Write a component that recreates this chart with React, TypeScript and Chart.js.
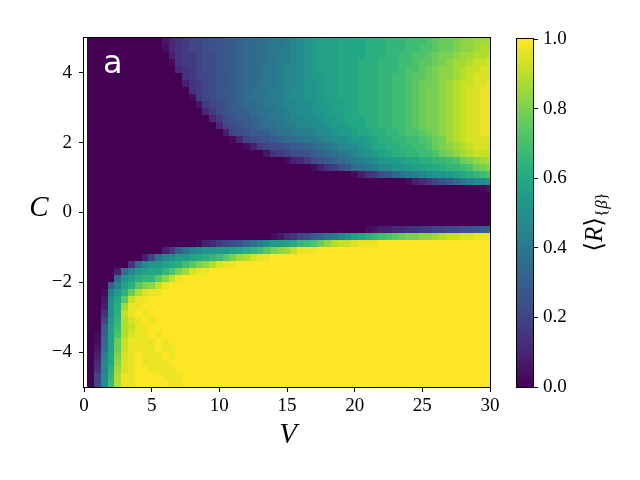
import React, { useEffect, useRef } from "react";
import { Chart, registerables } from "chart.js";

Chart.register(...registerables);

// ---------------- data ----------------
// column centres (V) and row centres (C) of the heat-map grid
const V_CENTERS = [
  0.5, 1, 1.5, 2, 2.5, 3, 3.5, 4, 4.5, 5,
  5.5, 6, 6.5, 7, 7.5, 8, 8.5, 9, 9.5, 10,
  10.5, 11, 11.5, 12, 12.5, 13, 13.5, 14, 14.5, 15,
  15.5, 16, 16.5, 17, 17.5, 18, 18.5, 19, 19.5, 20,
  20.5, 21, 21.5, 22, 22.5, 23, 23.5, 24, 24.5, 25,
  25.5, 26, 26.5, 27, 27.5, 28, 28.5, 29, 29.5, 30,
];
const C_CENTERS = [
  4.9, 4.7, 4.5, 4.3, 4.1, 3.9, 3.7, 3.5, 3.3, 3.1,
  2.9, 2.7, 2.5, 2.3, 2.1, 1.9, 1.7, 1.5, 1.3, 1.1,
  0.9, 0.7, 0.5, 0.3, 0.1, -0.1, -0.3, -0.5, -0.7, -0.9,
  -1.1, -1.3, -1.5, -1.7, -1.9, -2.1, -2.3, -2.5, -2.7, -2.9,
  -3.1, -3.3, -3.5, -3.7, -3.9, -4.1, -4.3, -4.5, -4.7, -4.9,
];
const X_TICKS = [0, 5, 10, 15, 20, 25, 30];
const Y_TICKS = [-4, -2, 0, 2, 4];
const CBAR_TICKS = [0, 0.2, 0.4, 0.6, 0.8, 1.0];

// <R>_{beta} per cell, one string per C row (top to bottom), one base-36 digit
// per V column: "0" = 0.0 ... "z" = 1.0 (value = digit / 35)
const R_ROWS = [
  "0000000000 0245677899 aabccddeef ghijkkklll lmmmnnnooo pqrrsttuuu",
  "0000000000 0145677899 aabccddeef ghijkkklll lmmmnnnoop pqrrsttuvv",
  "0000000000 0035667889 aabccddeff ghijkkklll lmmmnnoopp qrsstuuvvw",
  "0000000000 0015667889 aabccddeff ghijkkklll mmmnnnoopq qrstuuvwwx",
  "0000000000 0004567889 aabccdeefg ghijkkklll mmmnnnoppq rsttuvwwxx",
  "0000000000 0000567789 9abccdeefg ghijjkklll mmmnnoopqq rsttuvwxxx",
  "0000000000 0000356789 9abccdeefg ghiijkklll mmmnnoopqr rstuvwwxxy",
  "0000000000 0000056789 aabcddeffg hhiijkklll mmmnnoopqr sstuvwxxyy",
  "0000000000 0000016789 9abcddeffg hhiijkklll mmmnnoopqr sstuvwxxyy",
  "0000000000 0000002678 9abccdeefg ghhijjkkll mmmnnoopqr sstuvwxxyy",
  "0000000000 0000000468 9aabcddeff ghhiijkkll mmmnnoopqr sstuvwxxyy",
  "0000000000 0000000046 89aabcdeef gghhijjkll lmmnnoopqr sstuvwxxyy",
  "0000000000 0000000004 789abcddef fgghhijjkl lmmnnoopqr sstuvwxxyy",
  "0000000000 0000000000 3789aabcdd effghhijjk llmmnnoppq rstuvwxxyy",
  "0000000000 0000000000 0147899abc cdeefghhij jklmmnnoop qrsuvwxxxx",
  "0000000000 0000000000 0001367889 aabcdefghh ijllmmnnoo prstuvwxxx",
  "0000000000 0000000000 0000002567 889abcdefg hijklmmnno oprstuvwww",
  "0000000000 0000000000 0000000001 34689abcde fghijjkllm mnnoprstuv",
  "0000000000 0000000000 0000000000 00013568ac defghiijkk llmnnoprst",
  "0000000000 0000000000 0000000000 0000000001 35689bdefg hiijklmnop",
  "0000000000 0000000000 0000000000 0000000000 0000000134 679acefhhi",
  "0000000000 0000000000 0000000000 0000000000 0000000000 0000000012",
  "0000000000 0000000000 0000000000 0000000000 0000000000 0000000000",
  "0000000000 0000000000 0000000000 0000000000 0000000000 0000000000",
  "0000000000 0000000000 0000000000 0000000000 0000000000 0000000000",
  "0000000000 0000000000 0000000000 0000000000 0000000000 0000000000",
  "0000000000 0000000000 0000000000 0000000000 0000000000 0000000000",
  "0000000000 0000000000 0000000000 0000000000 0123344556 6778899abc",
  "0000000000 0000000000 0000000124 578abdegik lmnopqrsst tuvwwxxyyy",
  "0000000000 0000001346 789bdfhjjk lnoprtvwwx yyyzzzzzzz zzzzzzzzzz",
  "0000000000 036adghiij jklmnoqstu wyyyzzzzzz zzzzzzzzzz zzzzzzzzzz",
  "0000000037 dghjjklmno qsuvxyyzzz zzzzzzzzzz zzzzzzzzzz zzzzzzzzzz",
  "0000005cgi jklmoqstvx yyzzzzzzzz zzzzzzzzzz zzzzzzzzzz zzzzzzzzzz",
  "00003dgjkl lnpsuxyyzz zzzzzzzzzz zzzzzzzzzz zzzzzzzzzz zzzzzzzzzz",
  "0000cikmnn qtwyzzzzzz zzzzzzzzzz zzzzzzzzzz zzzzzzzzzz zzzzzzzzzz",
  "000agkmqst wyzzzzzzzz zzzzzzzzzz zzzzzzzzzz zzzzzzzzzz zzzzzzzzzz",
  "001fjmrvxy yzzzzzzzzz zzzzzzzzzz zzzzzzzzzz zzzzzzzzzz zzzzzzzzzz",
  "002hlqwyyz zzzzzzzzzz zzzzzzzzzz zzzzzzzzzz zzzzzzzzzz zzzzzzzzzz",
  "003imuyyzz zzzzzzzzzz zzzzzzzzzz zzzzzzzzzz zzzzzzzzzz zzzzzzzzzz",
  "005imwyzyz zzzzzzzzzz zzzzzzzzzz zzzzzzzzzz zzzzzzzzzz zzzzzzzzzz",
  "007jnvxyzy zzzzzzzzzz zzzzzzzzzz zzzzzzzzzz zzzzzzzzzz zzzzzzzzzz",
  "00akovwyyz zzzzzzzzzz zzzzzzzzzz zzzzzzzzzz zzzzzzzzzz zzzzzzzzzz",
  "01bkpvxyyz yzzzzzzzzz zzzzzzzzzz zzzzzzzzzz zzzzzzzzzz zzzzzzzzzz",
  "01ckrwyyyy zyzzzzzzzz zzzzzzzzzz zzzzzzzzzz zzzzzzzzzz zzzzzzzzzz",
  "02dkrwyyyy zyyzzzzzzz zzzzzzzzzz zzzzzzzzzz zzzzzzzzzz zzzzzzzzzz",
  "03flsxyzyy yzyzzzzzzz zzzzzzzzzz zzzzzzzzzz zzzzzzzzzz zzzzzzzzzz",
  "04gltxyzyy yyzzzzzzzz zzzzzzzzzz zzzzzzzzzz zzzzzzzzzz zzzzzzzzzz",
  "05gmuxyzzy yyyzzzzzzz zzzzzzzzzz zzzzzzzzzz zzzzzzzzzz zzzzzzzzzz",
  "07hnvyyzzz zyyyzzzzzz zzzzzzzzzz zzzzzzzzzz zzzzzzzzzz zzzzzzzzzz",
  "07hovyyzzz zzyyzzzzzz zzzzzzzzzz zzzzzzzzzz zzzzzzzzzz zzzzzzzzzz",
];

// ---------------- style ----------------
const VIRIDIS = [
  [68, 1, 84], [72, 36, 117], [65, 68, 135], [53, 95, 141], [42, 120, 142],
  [33, 145, 140], [34, 168, 132], [68, 191, 112], [122, 209, 81], [189, 223, 38],
  [253, 231, 37],
];
const SERIF = '"Liberation Serif", "DejaVu Serif", serif';
const TICK_FONT = { family: SERIF, size: 19 };

function viridis(t: number): string {
  const v = Math.min(1, Math.max(0, t));
  const n = VIRIDIS.length - 1;
  const p = v * n;
  const i = Math.min(n - 1, Math.floor(p));
  const f = p - i;
  const a = VIRIDIS[i];
  const b = VIRIDIS[i + 1];
  const c = a.map((x, k) => Math.round(x + (b[k] - x) * f));
  return `rgb(${c[0]},${c[1]},${c[2]})`;
}

const R_GRID = R_ROWS.map((row) =>
  row.replace(/\s+/g, "").split("").map((ch) => parseInt(ch, 36) / 35)
);

const fmtSigned = (v: number) => (v < 0 ? "\u2212" + Math.abs(v) : String(v));

const heatmapPlugin = {
  id: "heatmap",
  beforeDatasetsDraw(chart: any) {
    const { ctx, chartArea: a, scales } = chart;
    const xs = scales.x;
    const ys = scales.y;
    const hv = (V_CENTERS[1] - V_CENTERS[0]) / 2;
    const hc = Math.abs(C_CENTERS[0] - C_CENTERS[1]) / 2;
    ctx.save();
    ctx.beginPath();
    ctx.rect(a.left, a.top, a.right - a.left, a.bottom - a.top);
    ctx.clip();
    R_GRID.forEach((row, r) => {
      const y0 = Math.round(ys.getPixelForValue(C_CENTERS[r] + hc));
      const y1 = Math.round(ys.getPixelForValue(C_CENTERS[r] - hc));
      row.forEach((val, j) => {
        const x0 = Math.round(xs.getPixelForValue(V_CENTERS[j] - hv));
        const x1 = Math.round(xs.getPixelForValue(V_CENTERS[j] + hv));
        ctx.fillStyle = viridis(val);
        ctx.fillRect(x0, y0, x1 - x0, y1 - y0);
      });
    });
    ctx.restore();
  },
};

const mainDecorPlugin = {
  id: "mainDecor",
  afterDraw(chart: any) {
    const { ctx, chartArea: a } = chart;
    ctx.save();
    ctx.strokeStyle = "#000";
    ctx.lineWidth = 1;
    ctx.strokeRect(
      Math.round(a.left) - 0.5,
      Math.round(a.top) - 0.5,
      Math.round(a.right - a.left) + 1,
      Math.round(a.bottom - a.top) + 1
    );
    // panel letter
    ctx.fillStyle = "#fff";
    ctx.font = '32px "DejaVu Sans", sans-serif';
    ctx.textAlign = "left";
    ctx.textBaseline = "alphabetic";
    ctx.fillText("a", a.left + 19, a.top + 35);
    // axis titles
    ctx.fillStyle = "#000";
    ctx.font = `italic 29px ${SERIF}`;
    ctx.textAlign = "center";
    ctx.fillText("C", a.left - 45, (a.top + a.bottom) / 2 + 3);
    ctx.fillText("V", (a.left + a.right) / 2 + 1, a.bottom + 56);
    ctx.restore();
  },
};

const colorbarPlugin = {
  id: "colorbar",
  beforeDatasetsDraw(chart: any) {
    const { ctx, chartArea: a, scales } = chart;
    const ys = scales.y;
    const N = 256;
    ctx.save();
    for (let k = 0; k < N; k++) {
      const v0 = k / N;
      const v1 = (k + 1) / N;
      const yTop = ys.getPixelForValue(v1);
      const yBot = ys.getPixelForValue(v0);
      ctx.fillStyle = viridis((v0 + v1) / 2);
      ctx.fillRect(a.left, Math.floor(yTop), a.right - a.left, Math.ceil(yBot) - Math.floor(yTop));
    }
    ctx.restore();
  },
  afterDraw(chart: any) {
    const { ctx, chartArea: a } = chart;
    ctx.save();
    ctx.strokeStyle = "#000";
    ctx.lineWidth = 1;
    ctx.strokeRect(
      Math.round(a.left) - 0.5,
      Math.round(a.top) - 0.5,
      Math.round(a.right - a.left) + 1,
      Math.round(a.bottom - a.top) + 1
    );
    // rotated label <R>_{beta}
    const parts = [
      { t: "\u27E8", f: `25px ${SERIF}`, dy: 0 },
      { t: "R", f: `italic 25px ${SERIF}`, dy: 0 },
      { t: "\u27E9", f: `25px ${SERIF}`, dy: 0 },
      { t: "{", f: `17px ${SERIF}`, dy: 5 },
      { t: "\u03B2", f: `italic 17px ${SERIF}`, dy: 5 },
      { t: "}", f: `17px ${SERIF}`, dy: 5 },
    ];
    let total = 0;
    const widths = parts.map((p) => {
      ctx.font = p.f;
      const w = ctx.measureText(p.t).width;
      total += w;
      return w;
    });
    const baseX = a.right + 69;
    const centerY = (a.top + a.bottom) / 2 + 9;
    ctx.translate(baseX, centerY + total / 2);
    ctx.rotate(-Math.PI / 2);
    ctx.fillStyle = "#000";
    ctx.textAlign = "left";
    ctx.textBaseline = "alphabetic";
    let x = 0;
    parts.forEach((p, i) => {
      ctx.font = p.f;
      ctx.fillText(p.t, x, p.dy);
      x += widths[i];
    });
    ctx.restore();
  },
};

const tickGrid = {
  display: true,
  drawOnChartArea: false,
  drawTicks: true,
  tickLength: 5,
  tickColor: "#000",
  tickWidth: 1,
};

export default function App() {
  const mainRef = useRef<HTMLCanvasElement | null>(null);
  const cbarRef = useRef<HTMLCanvasElement | null>(null);

  useEffect(() => {
    if (!mainRef.current || !cbarRef.current) return;
    const main = new Chart(mainRef.current, {
      type: "scatter",
      data: { datasets: [{ data: [], pointRadius: 0 }] },
      options: {
        animation: false,
        responsive: false,
        maintainAspectRatio: false,
        layout: { padding: { left: 0, top: 38, right: 150, bottom: 0 } },
        plugins: { legend: { display: false }, tooltip: { enabled: false } },
        scales: {
          x: {
            type: "linear",
            min: 0,
            max: 30,
            afterBuildTicks: (s: any) => {
              s.ticks = X_TICKS.map((value) => ({ value }));
            },
            afterFit: (s: any) => {
              s.height = 93;
            },
            grid: tickGrid,
            border: { display: false },
            ticks: {
              font: TICK_FONT,
              color: "#000",
              padding: 3,
              autoSkip: false,
              maxRotation: 0,
              callback: (v: any) => fmtSigned(Number(v)),
            },
          },
          y: {
            type: "linear",
            min: -5,
            max: 5,
            afterBuildTicks: (s: any) => {
              s.ticks = Y_TICKS.map((value) => ({ value }));
            },
            afterFit: (s: any) => {
              s.width = 84;
            },
            grid: tickGrid,
            border: { display: false },
            ticks: {
              font: TICK_FONT,
              color: "#000",
              padding: 7,
              autoSkip: false,
              callback: (v: any) => fmtSigned(Number(v)),
            },
          },
        },
      } as any,
      plugins: [heatmapPlugin, mainDecorPlugin],
    });

    const cbar = new Chart(cbarRef.current, {
      type: "scatter",
      data: { datasets: [{ data: [], pointRadius: 0 }] },
      options: {
        animation: false,
        responsive: false,
        maintainAspectRatio: false,
        layout: { padding: { left: 517, top: 39, right: 0, bottom: 93 } },
        plugins: { legend: { display: false }, tooltip: { enabled: false } },
        scales: {
          x: { type: "linear", min: 0, max: 1, display: false },
          y: {
            type: "linear",
            position: "right",
            min: 0,
            max: 1,
            afterBuildTicks: (s: any) => {
              s.ticks = CBAR_TICKS.map((value) => ({ value }));
            },
            afterFit: (s: any) => {
              s.width = 107;
            },
            grid: tickGrid,
            border: { display: false },
            ticks: {
              font: TICK_FONT,
              color: "#000",
              padding: 5,
              autoSkip: false,
              callback: (v: any) => Number(v).toFixed(1),
            },
          },
        },
      } as any,
      plugins: [colorbarPlugin],
    });

    return () => {
      main.destroy();
      cbar.destroy();
    };
  }, []);

  return (
    <div
      style={{
        position: "fixed",
        left: 0,
        top: 0,
        width: 640,
        height: 480,
        background: "#fff",
      }}
    >
      <canvas
        ref={mainRef}
        width={640}
        height={480}
        style={{ position: "absolute", left: 0, top: 0 }}
      />
      <canvas
        ref={cbarRef}
        width={640}
        height={480}
        style={{ position: "absolute", left: 0, top: 0 }}
      />
    </div>
  );
}
